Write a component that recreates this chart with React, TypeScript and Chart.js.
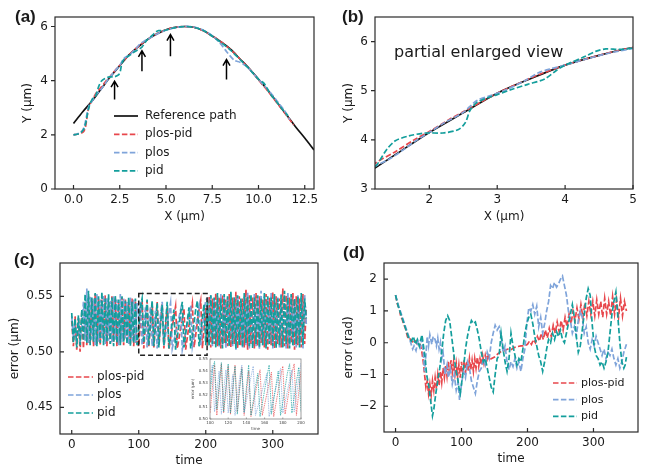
import React, { useEffect, useRef } from 'react';
import { Chart, registerables } from 'chart.js';

Chart.register(...registerables);
Chart.defaults.font.family = "'DejaVu Sans', sans-serif";
Chart.defaults.color = '#1a1a1a';

const RED = '#e8474c';
const BLUE = '#7fa4da';
const TEAL = '#139e9c';
const BLACK = '#111111';
const TEXT = '#1a1a1a';
const DASH = [5.5, 2.4];
const LW = 1.7;

type Pair = [number, number];

// ---------- Panel (a) / (b): trajectories ----------
const refPath: Pair[] = [[0,2.42],[0.5,2.85],[1,3.25],[1.5,3.7],[2,4.15],[2.5,4.55],[3,4.95],[3.5,5.25],[4,5.52],[4.5,5.72],[5,5.88],[5.5,5.97],[6,6.0],[6.5,5.97],[7,5.85],[7.5,5.65],[8,5.42],[8.5,5.15],[9,4.8],[9.5,4.45],[10,4.05],[10.5,3.65],[11,3.2],[11.5,2.75],[12,2.3],[12.5,1.88],[13,1.44]];
const plosPidPath: Pair[] = [[0,2.0],[0.2,2.02],[0.4,2.06],[0.55,2.12],[0.65,2.3],[0.72,2.6],[0.8,2.95],[0.9,3.15],[1.0,3.25],[1.2,3.52],[1.5,3.76],[1.8,4.02],[2.0,4.17],[2.3,4.42],[2.5,4.57],[2.8,4.8],[3.0,4.95],[3.3,5.14],[3.6,5.32],[4.0,5.52],[4.5,5.72],[5.0,5.88],[5.5,5.97],[6.0,6.0],[6.5,5.97],[7.0,5.85],[7.5,5.65],[8.0,5.42],[8.5,5.14],[9.0,4.8],[9.5,4.44],[10.0,4.03],[10.5,3.62],[11.0,3.18],[11.5,2.73],[11.9,2.37]];
const plosPath: Pair[] = [[0,2.0],[0.2,2.03],[0.4,2.1],[0.55,2.25],[0.65,2.5],[0.75,2.85],[0.85,3.1],[1.0,3.24],[1.2,3.46],[1.4,3.6],[1.6,3.78],[1.8,3.98],[2.0,4.15],[2.2,4.33],[2.5,4.56],[2.7,4.8],[2.9,4.9],[3.1,5.0],[3.4,5.2],[3.6,5.36],[3.8,5.45],[4.0,5.52],[4.3,5.64],[4.6,5.75],[5.0,5.86],[5.5,5.96],[6.0,6.0],[6.5,5.98],[7.0,5.87],[7.5,5.66],[7.9,5.4],[8.3,5.05],[8.7,4.75],[9.0,4.68],[9.4,4.5],[9.8,4.2],[10.2,3.9],[10.6,3.6],[11.0,3.25],[11.4,2.9],[11.7,2.56]];
const pidPath: Pair[] = [[0,2.0],[0.2,2.02],[0.4,2.08],[0.55,2.2],[0.65,2.4],[0.75,2.75],[0.85,3.05],[1.0,3.3],[1.2,3.45],[1.37,3.8],[1.5,3.98],[1.7,4.08],[1.95,4.14],[2.2,4.14],[2.43,4.21],[2.53,4.35],[2.6,4.6],[2.7,4.76],[2.85,4.85],[3.0,4.92],[3.2,5.02],[3.45,5.13],[3.7,5.24],[3.88,5.42],[4.0,5.52],[4.3,5.7],[4.45,5.8],[4.6,5.85],[4.8,5.84],[5.0,5.87],[5.5,5.96],[6.0,6.0],[6.5,5.97],[7.0,5.86],[7.5,5.64],[8.0,5.4],[8.5,5.12],[9.0,4.78],[9.5,4.43],[10.0,4.05],[10.3,3.9],[10.6,3.55],[11.0,3.2],[11.4,2.85],[11.6,2.7]];

// arrows in (a): x position, tail y, head y (data units)
const arrowX = [2.22, 3.7, 5.24, 8.27];
const arrowTail = [3.3, 4.35, 4.9, 4.04];
const arrowHead = [3.98, 5.1, 5.7, 4.78];

// ---------- Panel (c): position error ----------
const cTime = [0,2.5,5,7.5,10,12.5,15,17.5,20,22.5,25,27.5,30,32.5,35,37.5,40,42.5,45,47.5,50,52.5,55,57.5,60,62.5,65,67.5,70,72.5,75,77.5,80,82.5,85,87.5,90,92.5,95,97.5,100,102.5,105,107.5,110,112.5,115,117.5,120,122.5,125,127.5,130,132.5,135,137.5,140,142.5,145,147.5,150,152.5,155,157.5,160,162.5,165,167.5,170,172.5,175,177.5,180,182.5,185,187.5,190,192.5,195,197.5,200,202.5,205,207.5,210,212.5,215,217.5,220,222.5,225,227.5,230,232.5,235,237.5,240,242.5,245,247.5,250,252.5,255,257.5,260,262.5,265,267.5,270,272.5,275,277.5,280,282.5,285,287.5,290,292.5,295,297.5,300,302.5,305,307.5,310,312.5,315,317.5,320,322.5,325,327.5,330,332.5,335,337.5,340,342.5,345,347.5,350];
const cPlosPid = [0.528,0.505,0.532,0.502,0.530,0.500,0.535,0.503,0.545,0.506,0.550,0.508,0.548,0.505,0.552,0.507,0.549,0.506,0.547,0.510,0.551,0.505,0.546,0.507,0.550,0.509,0.548,0.505,0.545,0.508,0.549,0.506,0.547,0.510,0.544,0.507,0.548,0.505,0.546,0.508,
  0.505,0.525,0.545,0.503,0.525,0.546,0.505,0.524,0.544,0.504,0.526,0.545,0.506,0.527,0.543,0.503,0.522,0.540,0.502,0.512,0.522,0.532,0.541,0.503,0.512,0.521,0.530,0.539,0.502,0.513,0.524,0.535,0.544,0.504,0.515,0.527,0.538,0.546,0.503,0.522,0.540,
  0.506,0.550,0.504,0.548,0.507,0.553,0.505,0.549,0.503,0.551,0.508,0.547,0.505,0.552,0.504,0.549,0.507,0.554,0.503,0.550,0.506,0.548,0.504,0.556,0.502,0.551,0.507,0.549,0.503,0.553,0.505,0.550,0.508,0.547,0.504,0.552,0.502,0.549,0.506,0.554,0.503,0.550,0.507,0.548,0.504,0.557,0.505,0.551,0.503,0.549,0.508,0.553,0.502,0.550,0.506,0.548,0.504,0.552,0.507,0.540];
const cPlos = [0.532,0.512,0.528,0.507,0.531,0.509,0.522,0.545,0.510,0.557,0.508,0.550,0.511,0.548,0.506,0.552,0.509,0.547,0.512,0.551,0.507,0.549,0.510,0.546,0.508,0.550,0.511,0.547,0.506,0.552,0.509,0.548,0.512,0.545,0.507,0.549,0.510,0.547,0.508,0.544,
  0.530,0.545,0.506,0.522,0.540,0.504,0.523,0.541,0.505,0.520,0.537,0.503,0.518,0.534,0.545,0.505,0.515,0.525,0.535,0.544,0.503,0.510,0.517,0.524,0.531,0.538,0.502,0.510,0.518,0.526,0.534,0.542,0.505,0.514,0.523,0.532,0.541,0.506,0.520,0.534,0.547,
  0.548,0.507,0.551,0.505,0.549,0.508,0.546,0.504,0.552,0.506,0.550,0.503,0.548,0.507,0.553,0.505,0.549,0.502,0.551,0.508,0.547,0.504,0.550,0.506,0.554,0.503,0.548,0.507,0.552,0.505,0.549,0.502,0.555,0.506,0.550,0.504,0.548,0.508,0.553,0.503,0.551,0.506,0.549,0.504,0.552,0.507,0.548,0.503,0.554,0.505,0.550,0.508,0.547,0.504,0.551,0.506,0.549,0.503,0.552,0.525];
const cPid = [0.535,0.508,0.530,0.504,0.533,0.506,0.538,0.510,0.552,0.508,0.555,0.506,0.549,0.509,0.553,0.505,0.550,0.508,0.554,0.506,0.548,0.509,0.552,0.507,0.549,0.505,0.551,0.508,0.547,0.506,0.550,0.509,0.546,0.507,0.549,0.505,0.545,0.508,0.548,0.506,
  0.520,0.540,0.548,0.508,0.528,0.547,0.506,0.527,0.546,0.505,0.525,0.544,0.504,0.524,0.542,0.506,0.526,0.545,0.503,0.515,0.527,0.538,0.502,0.513,0.524,0.535,0.545,0.504,0.516,0.528,0.540,0.503,0.514,0.526,0.538,0.546,0.505,0.518,0.531,0.543,0.506,
  0.547,0.505,0.551,0.507,0.549,0.504,0.553,0.506,0.548,0.503,0.552,0.508,0.550,0.505,0.554,0.507,0.549,0.503,0.551,0.506,0.548,0.504,0.553,0.508,0.550,0.505,0.552,0.503,0.549,0.507,0.551,0.504,0.548,0.506,0.553,0.503,0.550,0.507,0.549,0.505,0.552,0.503,0.548,0.506,0.551,0.504,0.555,0.507,0.549,0.503,0.552,0.505,0.548,0.507,0.550,0.504,0.553,0.506,0.548,0.530];
// dashed zoom box in (c): time from/to, error from/to
const cBoxTime = [100, 202];
const cBoxErr = [0.497, 0.5525];

// ---------- Panel (d): heading error ----------
const dPlosPid: Pair[] = [[0,1.5],[3,1.2],[6,1.05],[8,0.8],[10,0.75],[12,0.6],[15,0.45],[18,0.2],[20,0.1],[22,0.12],[25,0.05],[28,0.0],[30,0.05],[33,-0.05],[36,0.0],[38,-0.1],[40,-0.3],[42,-0.6],[44,-1.0],[46,-1.4],[48,-1.2],[50,-1.6],[52,-1.3],[54,-1.65],[56,-1.2],[58,-1.5],[60,-1.1],[62,-1.45],[64,-1.0],[66,-1.35],[68,-0.9],[70,-1.25],[72,-0.8],[74,-1.1],[76,-0.7],[78,-1.05],[80,-0.6],[82,-1.0],[84,-0.55],[86,-0.95],[88,-0.6],[90,-1.0],[92,-0.65],[94,-1.05],[96,-0.7],[98,-1.1],[100,-0.6],[102,-1.0],[104,-0.55],[106,-0.95],[108,-0.6],[110,-0.9],[112,-0.5],[114,-0.85],[116,-0.55],[118,-0.9],[120,-0.5],[122,-0.8],[124,-0.45],[126,-0.75],[128,-0.5],[130,-0.7],[132,-0.4],[134,-0.65],[136,-0.4],[138,-0.6],[140,-0.35],[142,-0.55],[145,-0.5],[150,-0.45],[155,-0.35],[160,-0.28],[165,-0.25],[170,-0.2],[175,-0.22],[180,-0.15],[185,-0.12],[190,-0.1],[195,-0.1],[200,-0.05],[203,0.05],[206,-0.05],[209,0.1],[212,0.0],[215,0.2],[218,0.05],[221,0.3],[224,0.1],[227,0.4],[230,0.15],[233,0.45],[236,0.2],[239,0.55],[242,0.3],[245,0.65],[248,0.35],[251,0.7],[254,0.4],[257,0.8],[260,0.5],[263,0.9],[266,0.6],[269,1.0],[272,0.7],[275,1.1],[278,0.75],[281,1.2],[284,0.8],[287,1.25],[290,0.85],[293,1.3],[296,0.9],[299,1.3],[302,0.85],[305,1.35],[308,0.9],[311,1.3],[314,0.8],[317,1.4],[320,0.9],[323,1.3],[326,0.85],[329,1.45],[332,0.9],[335,1.35],[338,0.8],[341,1.4],[344,0.85],[347,1.3],[350,1.0]];
const dPlos: Pair[] = [[0,1.5],[4,1.2],[8,0.95],[12,0.7],[16,0.45],[20,0.2],[23,0.0],[26,-0.2],[28,-0.1],[31,-0.25],[34,0.05],[37,-0.15],[40,0.1],[42,-0.3],[44,-0.9],[46,-0.4],[48,0.2],[50,-0.1],[52,0.25],[55,-0.05],[57,0.2],[60,0.1],[62,-0.1],[64,0.15],[66,-0.2],[68,0.0],[70,-0.5],[72,-0.3],[75,-1.0],[78,-0.7],[80,-1.1],[83,-0.8],[86,-1.3],[89,-1.0],[92,-1.5],[95,-1.25],[97,-1.8],[100,-1.3],[103,-0.9],[106,-1.1],[109,-0.6],[112,-0.8],[115,-1.2],[118,-1.4],[121,-1.6],[124,-1.2],[127,-0.9],[130,-0.8],[133,-0.5],[136,-0.7],[139,-0.3],[142,-0.5],[145,0.0],[148,0.3],[151,0.55],[154,0.4],[157,0.5],[160,0.2],[163,-0.3],[166,-0.1],[169,-0.6],[172,-0.85],[175,-0.6],[178,-0.75],[181,-0.5],[184,-0.8],[187,-0.6],[190,-0.9],[193,-0.5],[196,-0.2],[199,0.6],[202,1.1],[205,1.0],[208,1.2],[211,0.9],[214,1.15],[217,0.5],[220,0.8],[223,0.3],[226,0.6],[229,1.0],[232,1.3],[235,1.8],[238,1.7],[241,1.9],[244,1.75],[247,1.85],[250,2.0],[253,2.1],[256,1.8],[259,1.5],[262,1.0],[265,0.7],[268,0.3],[271,0.5],[274,0.2],[277,0.7],[280,1.0],[283,0.8],[286,0.3],[289,0.5],[292,0.0],[295,-0.2],[298,0.1],[301,-0.1],[304,0.2],[307,0.0],[310,-0.2],[313,-0.4],[316,-0.2],[319,-0.5],[322,-0.3],[325,-0.4],[328,-0.2],[331,-0.5],[334,-0.7],[337,-0.5],[340,-0.8],[343,-0.6],[346,-0.3],[350,-0.05]];
const dPid: Pair[] = [[0,1.5],[4,1.15],[8,0.9],[12,0.65],[16,0.4],[20,0.15],[24,0.05],[27,0.2],[30,-0.05],[33,0.1],[36,-0.1],[40,0.25],[43,-0.2],[45,-0.5],[47,-1.0],[50,-1.3],[53,-1.8],[56,-2.3],[58,-2.1],[61,-1.6],[64,-1.2],[67,-0.8],[70,-0.3],[73,0.3],[76,0.7],[79,0.85],[82,0.7],[85,0.2],[88,-0.3],[91,-0.8],[94,-1.1],[96,-1.4],[98,-1.6],[100,-1.3],[103,-0.8],[106,-0.2],[109,0.2],[112,0.5],[115,0.7],[118,0.6],[121,0.65],[124,0.4],[127,0.1],[130,-0.3],[133,-0.6],[136,-0.5],[139,-0.8],[142,-1.1],[145,-1.4],[148,-1.55],[151,-1.0],[154,-0.5],[157,-0.4],[160,0.3],[163,-0.2],[166,-0.6],[169,-0.9],[172,-0.5],[175,0.3],[178,-0.1],[181,-0.4],[184,-0.7],[187,-0.5],[190,-0.6],[193,-0.2],[196,0.3],[199,0.6],[202,0.8],[205,0.9],[208,0.6],[211,0.2],[214,-0.1],[217,-0.4],[220,-0.6],[223,-0.9],[226,-0.6],[229,-0.2],[232,0.1],[235,0.0],[238,0.3],[241,0.1],[244,0.35],[247,0.2],[250,0.4],[253,0.1],[256,0.0],[259,0.3],[262,0.6],[265,0.9],[268,1.2],[271,0.8],[274,0.2],[277,-0.3],[280,-0.1],[283,0.4],[286,0.9],[289,1.4],[292,1.7],[295,1.5],[298,0.6],[301,-0.1],[304,-0.4],[307,-0.5],[310,-0.7],[313,-0.6],[316,-0.8],[319,-0.6],[322,-0.3],[325,0.3],[328,0.9],[331,1.3],[334,1.6],[337,0.8],[340,0.0],[343,-0.6],[346,-0.8],[348,-0.7],[350,-0.45]];

// ---------- Tick values and labels ----------
const aXTicks = [0, 2.5, 5, 7.5, 10, 12.5];
const aXLabels = ['0.0', '2.5', '5.0', '7.5', '10.0', '12.5'];
const aYTicks = [0, 2, 4, 6];
const aYLabels = ['0', '2', '4', '6'];
const bXTicks = [2, 3, 4, 5];
const bXLabels = ['2', '3', '4', '5'];
const bYTicks = [3, 4, 5, 6];
const bYLabels = ['3', '4', '5', '6'];
const cXTicks = [0, 100, 200, 300];
const cXLabels = ['0', '100', '200', '300'];
const cYTicks = [0.45, 0.5, 0.55];
const cYLabels = ['0.45', '0.50', '0.55'];
const dXTicks = [0, 100, 200, 300];
const dXLabels = ['0', '100', '200', '300'];
const dYTicks = [-2, -1, 0, 1, 2];
const dYLabels = ['\u22122', '\u22121', '0', '1', '2'];
const insetXTicks = [100, 120, 140, 160, 180, 200];
const insetXLabels = ['100', '120', '140', '160', '180', '200'];
const insetYTicks = [0.5, 0.51, 0.52, 0.53, 0.54, 0.55];
const insetYLabels = ['0.50', '0.51', '0.52', '0.53', '0.54', '0.55'];

const toPts = (p: Pair[]) => p.map(([x, y]) => ({ x, y }));
const zipPts = (xs: number[], ys: number[]) => xs.map((x, i) => ({ x, y: ys[i] }));

interface Rect { x: number; y: number; w: number; h: number }
interface Area { l: number; t: number; r: number; b: number }
interface AxisSpec { min: number; max: number; ticks: number[]; labels: string[]; title: string }
interface TextSpec { text: string; x: number; y: number; font: string; color?: string }
interface LegendSpec { left: number; top: number; gap: number; len: number; textGap: number; size: number }
interface PanelSpec {
  rect: Rect; area: Area; yTitleX: number; xTitleY: number;
  x: AxisSpec; y: AxisSpec;
  font: number; titleFont: number; tickLen: number; tickPadX: number; tickPadY: number;
  xDir: 'in' | 'out'; yDir: 'in' | 'out';
  frameColor: string; frameWidth: number; textColor?: string; bg?: string;
  datasets: any[];
  legend?: LegendSpec;
  texts?: TextSpec[];
  draw?: (chart: any) => void;
}

function buildConfig(s: PanelSpec): any {
  const lh = s.titleFont * 1.2;
  const padding = {
    left: s.yTitleX - s.rect.x - lh / 2,
    top: s.area.t - s.rect.y,
    right: s.rect.x + s.rect.w - s.area.r,
    bottom: s.rect.y + s.rect.h - s.xTitleY - lh / 2,
  };
  const yW = s.area.l - s.yTitleX + lh / 2;
  const xH = s.xTitleY + lh / 2 - s.area.b;
  const tc = s.textColor || TEXT;
  const axis = (a: AxisSpec, isX: boolean) => ({
    type: 'linear',
    position: isX ? 'bottom' : 'left',
    min: a.min,
    max: a.max,
    afterBuildTicks: (sc: any) => { sc.ticks = a.ticks.map((v) => ({ value: v })); },
    afterFit: (sc: any) => { if (isX) sc.height = xH; else sc.width = yW; },
    grid: { display: false, drawTicks: true, tickLength: s.tickLen },
    border: { display: false },
    ticks: {
      autoSkip: false, maxRotation: 0, minRotation: 0,
      padding: isX ? s.tickPadX : s.tickPadY,
      color: tc, font: { size: s.font },
      callback: (_v: any, i: number) => a.labels[i],
    },
    title: { display: true, text: a.title, color: tc, font: { size: s.titleFont, lineHeight: 1.2 }, padding: 0 },
  });
  const plugin = {
    id: 'mpl',
    beforeDraw(chart: any) {
      if (!s.bg) return;
      const { ctx, chartArea: a } = chart;
      ctx.save();
      ctx.fillStyle = s.bg;
      ctx.fillRect(a.left, a.top, a.right - a.left, a.bottom - a.top);
      ctx.restore();
    },
    afterDatasetsDraw(chart: any) {
      if (s.draw) s.draw(chart);
    },
    afterDraw(chart: any) {
      const { ctx, chartArea: a, scales } = chart;
      ctx.save();
      ctx.setLineDash([]);
      ctx.strokeStyle = s.frameColor;
      ctx.lineWidth = s.frameWidth;
      ctx.strokeRect(a.left, a.top, a.right - a.left, a.bottom - a.top);
      ctx.beginPath();
      scales.x.ticks.forEach((t: any) => {
        const p = scales.x.getPixelForValue(t.value);
        const d = s.xDir === 'in' ? -s.tickLen : s.tickLen;
        ctx.moveTo(p, a.bottom);
        ctx.lineTo(p, a.bottom + d);
      });
      scales.y.ticks.forEach((t: any) => {
        const p = scales.y.getPixelForValue(t.value);
        const d = s.yDir === 'in' ? s.tickLen : -s.tickLen;
        ctx.moveTo(a.left, p);
        ctx.lineTo(a.left + d, p);
      });
      ctx.stroke();
      if (s.legend) {
        const L = s.legend;
        chart.data.datasets.forEach((ds: any, i: number) => {
          const y = a.top + L.top + i * L.gap;
          const x0 = a.left + L.left;
          ctx.strokeStyle = ds.borderColor;
          ctx.lineWidth = ds.borderWidth;
          ctx.setLineDash(ds.borderDash || []);
          ctx.beginPath();
          ctx.moveTo(x0, y);
          ctx.lineTo(x0 + L.len, y);
          ctx.stroke();
          ctx.setLineDash([]);
          ctx.fillStyle = tc;
          ctx.font = `${L.size}px 'DejaVu Sans', sans-serif`;
          ctx.textAlign = 'left';
          ctx.textBaseline = 'middle';
          ctx.fillText(ds.label, x0 + L.len + L.textGap, y);
        });
      }
      (s.texts || []).forEach((t) => {
        ctx.fillStyle = t.color || TEXT;
        ctx.font = t.font;
        ctx.textAlign = 'left';
        ctx.textBaseline = 'alphabetic';
        ctx.fillText(t.text, t.x - s.rect.x, t.y - s.rect.y);
      });
      ctx.restore();
    },
  };
  return {
    type: 'line',
    data: { datasets: s.datasets },
    options: {
      responsive: false,
      maintainAspectRatio: false,
      animation: false,
      devicePixelRatio: 1,
      events: [],
      layout: { padding },
      scales: { x: axis(s.x, true), y: axis(s.y, false) },
      plugins: { legend: { display: false }, tooltip: { enabled: false } },
      elements: { point: { radius: 0 }, line: { fill: false } },
    },
    plugins: [plugin],
  };
}

const line = (label: string, data: any[], color: string, order: number, dash: number[] | undefined, width = LW, tension = 0) => ({
  label, data, borderColor: color, borderWidth: width, borderDash: dash, order, pointRadius: 0, tension, fill: false,
});

const pathSets = () => [
  line('Reference path', toPts(refPath), BLACK, 3, undefined, LW, 0.3),
  line('plos-pid', toPts(plosPidPath), RED, 2, DASH, LW, 0.3),
  line('plos', toPts(plosPath), BLUE, 1, DASH, LW, 0.3),
  line('pid', toPts(pidPath), TEAL, 0, DASH, LW, 0.3),
];

const LABEL_FONT = "bold 17px 'Liberation Sans', Arial, sans-serif";

const specA: PanelSpec = {
  rect: { x: 0, y: 0, w: 326, h: 237 }, area: { l: 55, t: 17, r: 314, b: 189 }, yTitleX: 28, xTitleY: 217,
  x: { min: -1, max: 13, ticks: aXTicks, labels: aXLabels, title: 'X (\u03bcm)' },
  y: { min: 0, max: 6.35, ticks: aYTicks, labels: aYLabels, title: 'Y (\u03bcm)' },
  font: 12, titleFont: 12, tickLen: 4, tickPadX: 0, tickPadY: 3, xDir: 'in', yDir: 'out',
  frameColor: '#2a2a2a', frameWidth: 1.2,
  datasets: pathSets(),
  legend: { left: 59, top: 99, gap: 18.3, len: 24, textGap: 7, size: 12 },
  texts: [{ text: '(a)', x: 15, y: 22, font: LABEL_FONT }],
  draw: (chart) => {
    const { ctx, scales } = chart;
    ctx.save();
    ctx.strokeStyle = '#000';
    ctx.lineWidth = 1.5;
    ctx.setLineDash([]);
    arrowX.forEach((ax, i) => {
      const x = scales.x.getPixelForValue(ax);
      const y1 = scales.y.getPixelForValue(arrowTail[i]);
      const y2 = scales.y.getPixelForValue(arrowHead[i]);
      ctx.beginPath();
      ctx.moveTo(x, y1);
      ctx.lineTo(x, y2);
      ctx.moveTo(x - 3.5, y2 + 6);
      ctx.lineTo(x, y2);
      ctx.lineTo(x + 3.5, y2 + 6);
      ctx.stroke();
    });
    ctx.restore();
  },
};

const specB: PanelSpec = {
  rect: { x: 326, y: 0, w: 326, h: 237 }, area: { l: 375, t: 17, r: 633, b: 189 }, yTitleX: 349, xTitleY: 217,
  x: { min: 1.2, max: 5, ticks: bXTicks, labels: bXLabels, title: 'X (\u03bcm)' },
  y: { min: 3, max: 6.5, ticks: bYTicks, labels: bYLabels, title: 'Y (\u03bcm)' },
  font: 12, titleFont: 12, tickLen: 4, tickPadX: 0, tickPadY: 3, xDir: 'in', yDir: 'out',
  frameColor: '#2a2a2a', frameWidth: 1.2,
  datasets: pathSets(),
  texts: [
    { text: '(b)', x: 342, y: 22, font: LABEL_FONT },
    { text: 'partial enlarged view', x: 394, y: 57, font: "16px 'DejaVu Sans', sans-serif" },
  ],
};

const cSets = (w: number, dash: number[]) => [
  line('plos-pid', zipPts(cTime, cPlosPid), RED, 2, dash, w),
  line('plos', zipPts(cTime, cPlos), BLUE, 1, dash, w),
  line('pid', zipPts(cTime, cPid), TEAL, 0, dash, w),
];

const specC: PanelSpec = {
  rect: { x: 0, y: 237, w: 326, h: 238 }, area: { l: 60, t: 263, r: 318, b: 434 }, yTitleX: 15, xTitleY: 461,
  x: { min: -17.5, max: 367.5, ticks: cXTicks, labels: cXLabels, title: 'time' },
  y: { min: 0.426, max: 0.58, ticks: cYTicks, labels: cYLabels, title: 'error (\u03bcm)' },
  font: 12, titleFont: 12, tickLen: 4, tickPadX: 0, tickPadY: 3, xDir: 'in', yDir: 'in',
  frameColor: '#2a2a2a', frameWidth: 1.2,
  datasets: cSets(LW, DASH),
  legend: { left: 8, top: 114, gap: 18, len: 25, textGap: 4, size: 12 },
  texts: [{ text: '(c)', x: 14, y: 265, font: LABEL_FONT }],
  draw: (chart) => {
    const { ctx, scales } = chart;
    const x1 = scales.x.getPixelForValue(cBoxTime[0]);
    const x2 = scales.x.getPixelForValue(cBoxTime[1]);
    const y1 = scales.y.getPixelForValue(cBoxErr[1]);
    const y2 = scales.y.getPixelForValue(cBoxErr[0]);
    ctx.save();
    ctx.strokeStyle = '#222';
    ctx.lineWidth = 1.5;
    ctx.setLineDash([5, 3]);
    ctx.strokeRect(x1, y1, x2 - x1, y2 - y1);
    ctx.restore();
  },
};

const specInset: PanelSpec = {
  rect: { x: 182, y: 352, w: 128, h: 88 }, area: { l: 210, t: 359, r: 301, b: 419 }, yTitleX: 193, xTitleY: 429,
  x: { min: 100, max: 200, ticks: insetXTicks, labels: insetXLabels, title: 'time' },
  y: { min: 0.5, max: 0.55, ticks: insetYTicks, labels: insetYLabels, title: 'error (\u03bcm)' },
  font: 4, titleFont: 4, tickLen: 1.5, tickPadX: 0.3, tickPadY: 0.8, xDir: 'in', yDir: 'in',
  frameColor: '#888', frameWidth: 0.8, textColor: '#444', bg: '#ffffff',
  datasets: cSets(0.7, [1.4, 0.9]),
};

const specD: PanelSpec = {
  rect: { x: 326, y: 237, w: 326, h: 238 }, area: { l: 384, t: 263, r: 638, b: 432 }, yTitleX: 349, xTitleY: 459,
  x: { min: -17.5, max: 367.5, ticks: dXTicks, labels: dXLabels, title: 'time' },
  y: { min: -2.81, max: 2.51, ticks: dYTicks, labels: dYLabels, title: 'error (rad)' },
  font: 12, titleFont: 12, tickLen: 4, tickPadX: 0, tickPadY: 3, xDir: 'in', yDir: 'in',
  frameColor: '#2a2a2a', frameWidth: 1.2,
  datasets: [
    line('plos-pid', toPts(dPlosPid), RED, 2, DASH),
    line('plos', toPts(dPlos), BLUE, 1, DASH),
    line('pid', toPts(dPid), TEAL, 0, DASH),
  ],
  legend: { left: 169, top: 120, gap: 16.7, len: 24, textGap: 4, size: 11 },
  texts: [{ text: '(d)', x: 343, y: 258, font: LABEL_FONT }],
};

const SPECS = [specA, specB, specC, specD, specInset];

export default function App() {
  const r0 = useRef<HTMLCanvasElement>(null);
  const r1 = useRef<HTMLCanvasElement>(null);
  const r2 = useRef<HTMLCanvasElement>(null);
  const r3 = useRef<HTMLCanvasElement>(null);
  const r4 = useRef<HTMLCanvasElement>(null);
  const refs = [r0, r1, r2, r3, r4];

  useEffect(() => {
    const charts: Chart[] = [];
    SPECS.forEach((s, i) => {
      const c = refs[i].current;
      if (c) charts.push(new Chart(c, buildConfig(s)));
    });
    return () => charts.forEach((c) => c.destroy());
  }, []);

  return (
    <div style={{ position: 'absolute', left: 0, top: 0, width: 652, height: 475, background: '#ffffff', overflow: 'hidden' }}>
      {SPECS.map((s, i) => (
        <canvas
          key={i}
          ref={refs[i]}
          width={s.rect.w}
          height={s.rect.h}
          style={{ position: 'absolute', left: s.rect.x, top: s.rect.y, width: s.rect.w, height: s.rect.h }}
        />
      ))}
    </div>
  );
}
